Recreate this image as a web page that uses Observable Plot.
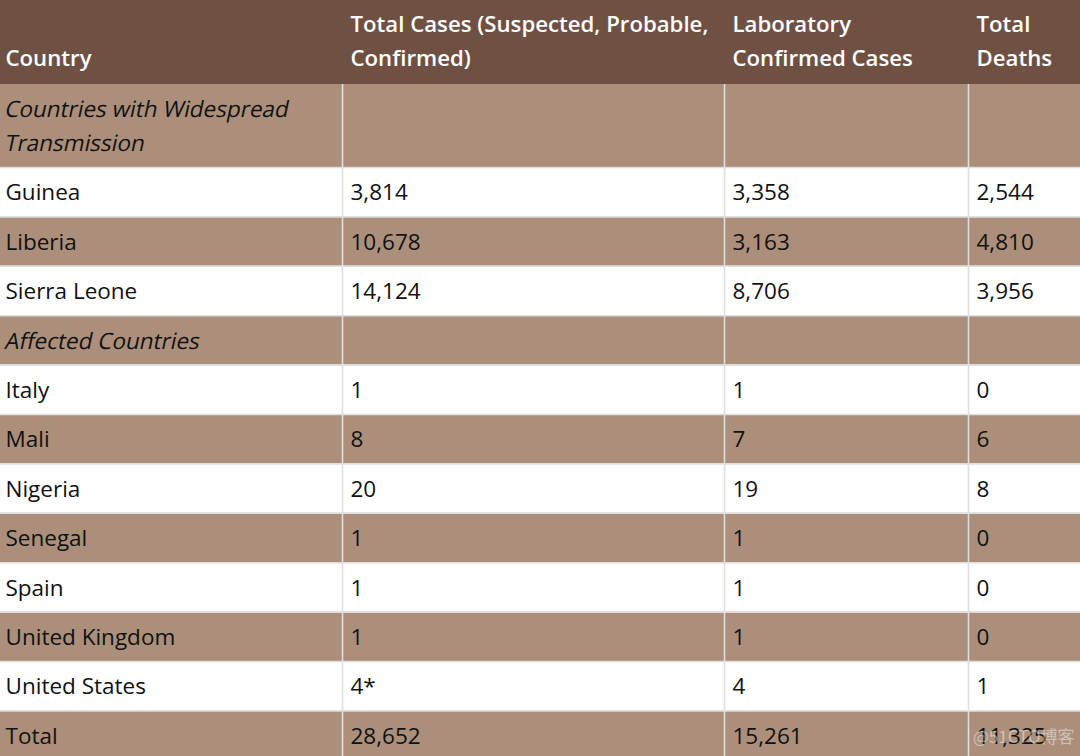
<!DOCTYPE html>
<html><head><meta charset="utf-8">
<script src="https://cdn.jsdelivr.net/npm/d3@7"></script>
<script src="https://cdn.jsdelivr.net/npm/@observablehq/plot@0.6"></script>
<style>html,body{margin:0;padding:0;background:#fff;} #chart svg{display:block;}</style>
</head><body><div id="chart"></div>
<script>
// ---- data ----
const headers = ["\nCountry", "Total Cases (Suspected, Probable,\nConfirmed)", "Laboratory\nConfirmed Cases", "Total\nDeaths"];
const countries = ["Countries with Widespread\nTransmission", "Guinea", "Liberia", "Sierra Leone", "Affected Countries",
  "Italy", "Mali", "Nigeria", "Senegal", "Spain", "United Kingdom", "United States", "Total"];
const isSection = [true, false, false, false, true, false, false, false, false, false, false, false, false];
const totalCases = [null, 3814, 10678, 14124, null, 1, 8, 20, 1, 1, 1, 4, 28652];
const totalCasesNote = ["", "", "", "", "", "", "", "", "", "", "", "*", ""];
const labConfirmed = [null, 3358, 3163, 8706, null, 1, 7, 19, 1, 1, 1, 4, 15261];
const totalDeaths = [null, 2544, 4810, 3956, null, 0, 6, 8, 0, 0, 0, 1, 11325];
const watermark = ["@51CTO博客"];

// ---- layout ----
const W = 1080, H = 756;
const colEdges = [0, 342, 724, 968, W];
const headerH = 84, twoLineH = 83, rowH = 49.4, linePx = 34;
const FONT = "'Open Sans', 'Noto Sans', sans-serif";
const fs = 22.5, fsHead = 22.2;
const headerFill = "#6f5144", bandFill = "#ab8f7a", plainFill = "#ffffff", gridColor = "#dfdfdf";

const rowEdges = [headerH];
countries.forEach(c => rowEdges.push(rowEdges[rowEdges.length - 1] + (c.includes("\n") ? twoLineH : rowH)));

const fmt = d3.format(",");
const values = countries.map((c, i) => [
  c,
  totalCases[i] == null ? "" : fmt(totalCases[i]) + totalCasesNote[i],
  labConfirmed[i] == null ? "" : fmt(labConfirmed[i]),
  totalDeaths[i] == null ? "" : fmt(totalDeaths[i])
]);

const cells = [];
const bodyLabels = [], sectionLabels = [];
countries.forEach((c, i) => {
  for (let j = 0; j < 4; j++) {
    cells.push({
      x1: colEdges[j], x2: colEdges[j + 1],
      y1: rowEdges[i], y2: rowEdges[i + 1],
      fill: i % 2 === 0 ? bandFill : plainFill
    });
    const lines = values[i][j].split("\n");
    const cy = (rowEdges[i] + rowEdges[i + 1]) / 2 + 1;
    lines.forEach((ln, k) => {
      if (!ln) return;
      const item = {text: ln, tx: colEdges[j] + (j === 0 ? 5 : 8), ty: cy + (k - (lines.length - 1) / 2) * linePx};
      (isSection[i] ? sectionLabels : bodyLabels).push(item);
    });
  }
});
const headerCells = headers.map((h, j) => ({text: h, tx: colEdges[j] + (j === 0 ? 5 : 8), ty: headerH / 2 - 4}));
const vLines = colEdges.slice(1, -1);
const hLines = rowEdges.slice(1);

const chart = Plot.plot({
  width: W, height: H,
  margin: 0,
  x: {type: "linear", domain: [0, W], range: [0, W], axis: null},
  y: {type: "linear", domain: [0, H], range: [0, H], axis: null},
  style: {fontFamily: FONT, background: "#fff"},
  marks: [
    Plot.rect([{x1: 0, x2: W, y1: 0, y2: headerH}], {x1: "x1", x2: "x2", y1: "y1", y2: "y2", fill: headerFill}),
    Plot.rect(cells, {x1: "x1", x2: "x2", y1: "y1", y2: "y2", fill: "fill"}),
    Plot.ruleX(vLines, {x: d => d, y1: headerH, y2: H, stroke: gridColor, strokeWidth: 1.6}),
    Plot.ruleY(hLines, {y: d => d, x1: 0, x2: W, stroke: gridColor, strokeWidth: 1.6}),
    Plot.text(headerCells, {x: "tx", y: "ty", text: "text", textAnchor: "start", lineAnchor: "middle",
      lineHeight: 1.53, fill: "#ffffff", fontSize: fsHead, fontWeight: 600}),
    Plot.text(bodyLabels, {x: "tx", y: "ty", text: "text", textAnchor: "start", lineAnchor: "middle",
      fill: "#111111", fontSize: fs}),
    Plot.text(sectionLabels, {x: "tx", y: "ty", text: "text", textAnchor: "start", lineAnchor: "middle",
      fill: "#111111", fontSize: fs}),
    Plot.text(watermark, {x: W - 6, y: H - 19, text: d => d, textAnchor: "end", fill: "#ffffff", fillOpacity: 0.45,
      fontSize: 17, fontFamily: "'Noto Sans CJK SC', sans-serif"})
  ]
});
// the reference uses a synthetic (slanted regular) italic: slant the section labels
const textGroups = chart.querySelectorAll('g[aria-label="text"]');
if (textGroups.length >= 3) {
  textGroups[2].querySelectorAll("text").forEach(t => {
    const tr = t.getAttribute("transform");
    if (tr) t.setAttribute("transform", tr + " skewX(-12)");
    else {
      const x = t.getAttribute("x") || 0, y = t.getAttribute("y") || 0;
      t.setAttribute("transform", `translate(${x},${y}) skewX(-12)`);
      t.removeAttribute("x"); t.removeAttribute("y");
    }
  });
}
document.getElementById("chart").append(chart);
</script>
</body></html>
